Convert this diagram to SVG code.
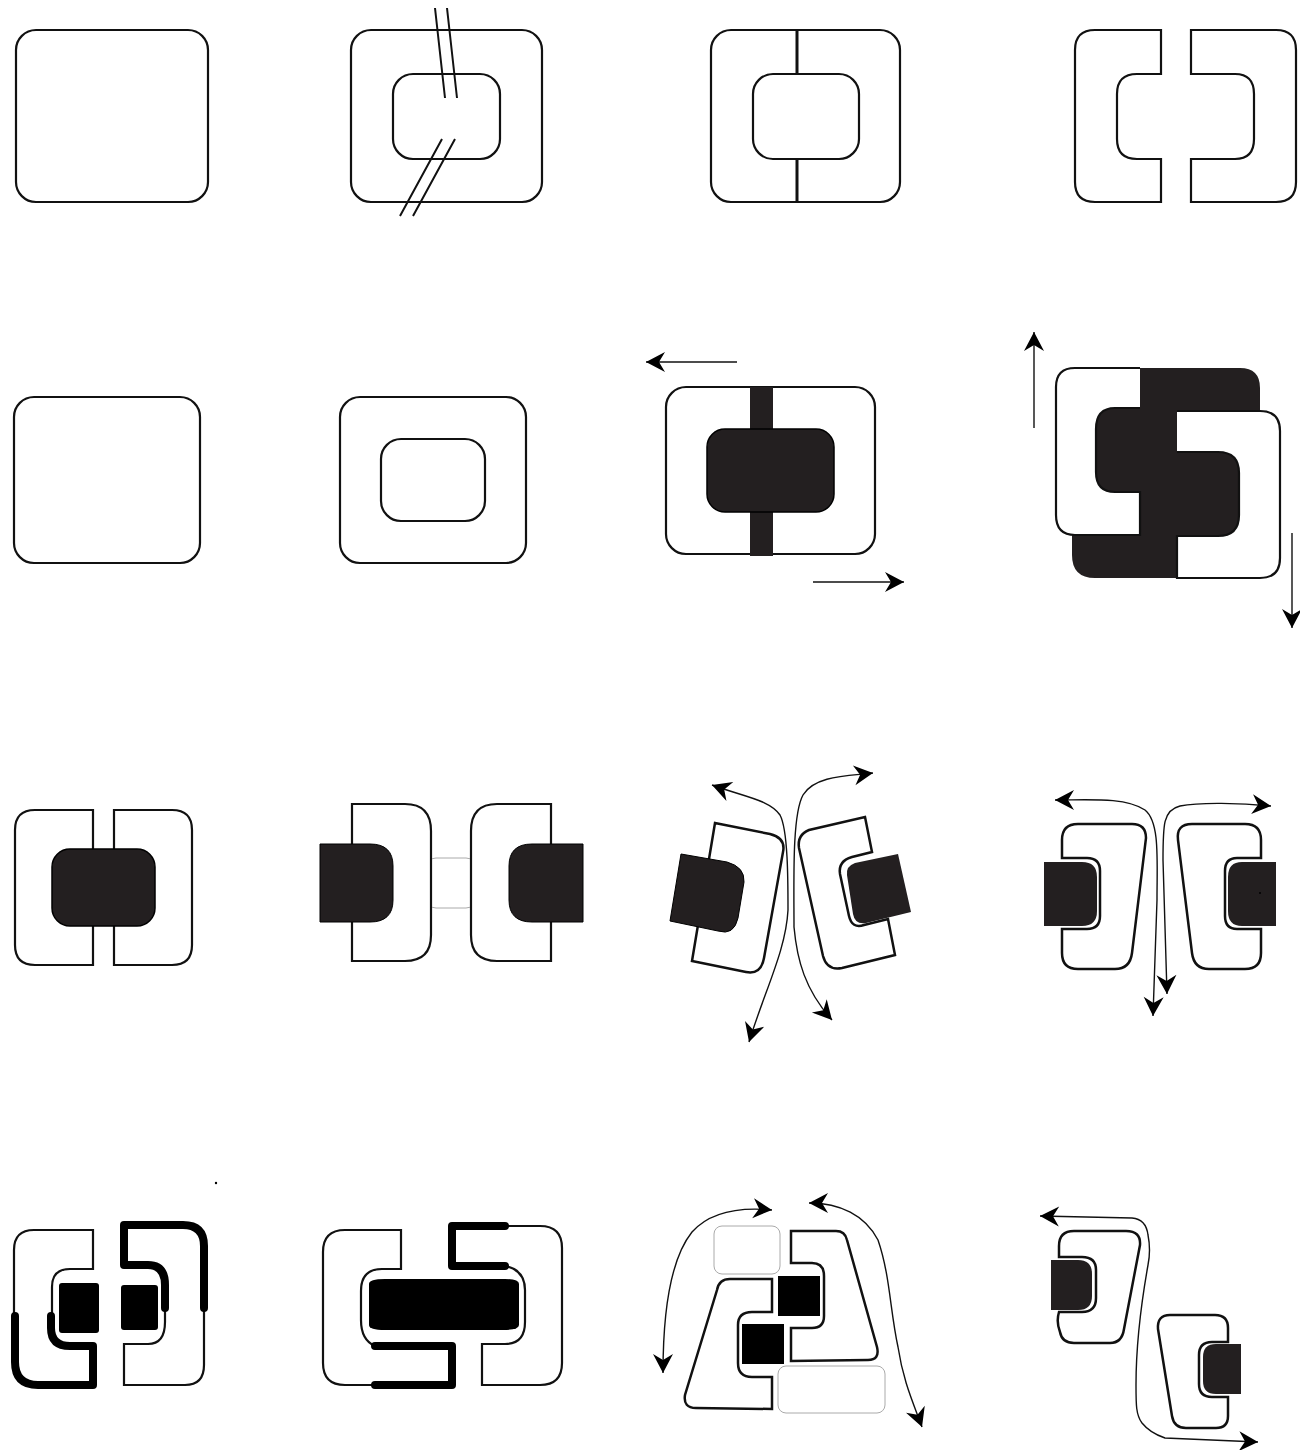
<svg xmlns="http://www.w3.org/2000/svg" width="1300" height="1450" viewBox="0 0 1300 1450">
<style>
.o{fill:#fff;stroke:#111;stroke-width:2.2;stroke-linejoin:miter}
.w{fill:#fff;stroke:#111;stroke-width:2.5;stroke-linejoin:miter}
.n{fill:none;stroke:#111;stroke-width:2}
.k{fill:#231f20}
.b{fill:#000}
.g{fill:#fff;stroke:#aaa;stroke-width:1}
.t{fill:none;stroke:#000;stroke-width:8;stroke-linecap:round;stroke-linejoin:round}
.a{fill:none;stroke:#111;stroke-width:1.4;marker-end:url(#ah)}
.d{fill:none;stroke:#111;stroke-width:1.4;marker-start:url(#ah);marker-end:url(#ah)}
</style>
<defs>
<marker id="ah" markerUnits="userSpaceOnUse" markerWidth="24" markerHeight="22" refX="19" refY="10" orient="auto-start-reverse" overflow="visible">
<path d="M0,0 L19,10 L0,20 L6,10 Z" fill="#000"/>
</marker>
</defs>
<rect width="1300" height="1450" fill="#fff"/>

<g id="p01"><rect class="o" x="16" y="30" width="192" height="172" rx="20"/></g>

<g id="p02">
<rect class="o" x="351" y="30" width="191" height="172" rx="20"/>
<rect class="o" x="393" y="74" width="107" height="85" rx="20"/>
<path class="n" d="M435,8 L445,98 M447,8 L457,98 M442,139 L400,216 M455,139 L413,216"/>
</g>

<g id="p03">
<rect class="o" x="711" y="30" width="189" height="172" rx="20"/>
<rect class="o" x="753" y="74" width="106" height="85" rx="20"/>
<path fill="none" stroke="#111" stroke-width="3" d="M797,30 V74 M797,159 V202"/>
</g>

<g id="p04">
<path class="o" d="M1161,30 H1095 Q1075,30 1075,50 V182 Q1075,202 1095,202 H1161 V159 H1137 Q1117,159 1117,139 V94 Q1117,74 1137,74 H1161 Z"/>
<path class="o" d="M1191,30 H1276 Q1296,30 1296,50 V182 Q1296,202 1276,202 H1191 V159 H1235 Q1254,159 1254,139 V94 Q1254,74 1235,74 H1191 Z"/>
</g>

<g id="p05"><rect class="o" x="14" y="397" width="186" height="166" rx="20"/></g>

<g id="p06">
<rect class="o" x="340" y="397" width="186" height="166" rx="20"/>
<rect class="o" x="381" y="439" width="104" height="82" rx="20"/>
</g>

<g id="p07">
<rect class="o" x="666" y="387" width="209" height="167" rx="20"/>
<rect class="k" x="750" y="387" width="23" height="169"/>
<rect x="707" y="429" width="127" height="83" rx="18" fill="#231f20" stroke="#000" stroke-width="1.5"/>
</g>

<g id="p08">
<path class="k" d="M1140,368 H1240 Q1260,368 1260,388 V420 H1250 V540 H1177 V578 H1095 Q1072,578 1072,555 V530 H1090 V400 H1140 Z"/>
<path class="o" d="M1140,368 H1075 Q1056,368 1056,387 V515 Q1056,535 1075,535 H1140 V492 H1115 Q1096,492 1096,472 V429 Q1096,408 1115,408 H1140"/>
<path class="o" d="M1177,411 H1260 Q1280,411 1280,431 V558 Q1280,578 1260,578 H1177 V536 H1218 Q1239,536 1239,515 V473 Q1239,452 1218,452 H1177"/>
</g>

<g id="p09">
<path class="o" d="M93,860 V810 H35 Q15,810 15,830 V945 Q15,965 35,965 H93 V915"/>
<path class="o" d="M114,860 V810 H172 Q192,810 192,830 V945 Q192,965 172,965 H114 V915"/>
<rect x="52" y="849" width="103" height="77" rx="18" fill="#231f20" stroke="#000" stroke-width="1.5"/>
</g>

<g id="p10">
<rect class="g" x="426" y="858" width="50" height="50" rx="10"/>
<path class="o" d="M352,804 H405 Q431,804 431,831 V935 Q431,961 405,961 H352 Z"/>
<path class="o" d="M551,804 H497 Q471,804 471,831 V935 Q471,961 497,961 H551 Z"/>
<path d="M320,844 H370 Q393,844 393,866 V900 Q393,922 370,922 H320 Z" fill="#231f20" stroke="#000" stroke-width="1"/>
<path d="M583,844 H532 Q509,844 509,866 V900 Q509,922 532,922 H583 Z" fill="#231f20" stroke="#000" stroke-width="1"/>
</g>

<g id="p11">
<path class="w" d="M715,823 L770,834 Q786,838 783,852 L764,958 Q761,975 746,972 L692,961 Z"/>
<path d="M681,854 L727,862 Q745,867 744,882 L738,918 Q734,936 718,931 L670,921 Z" fill="#231f20" stroke="#000"/>
<path class="w" d="M865,817 L872,852 L852,857 Q838,861 840,874 L849,916 Q852,929 864,925 L888,919 L895,955 L842,968 Q827,971 823,956 L799,848 Q797,835 809,830 Z"/>
<path d="M898,854 L911,912 L866,923 Q855,925 853,914 L847,875 Q846,866 855,863 Z" fill="#231f20"/>
</g>

<g id="p12">
<path class="w" d="M1062,858 V840 Q1062,824 1078,824 H1132 Q1146,824 1146,838 L1132,953 Q1130,969 1115,969 H1078 Q1062,969 1062,953 V929 H1087 Q1100,929 1100,916 V871 Q1100,858 1087,858 Z"/>
<path d="M1044,862 H1082 Q1097,862 1097,877 V911 Q1097,926 1082,926 H1044 Z" fill="#231f20"/>
<path class="w" d="M1261,858 V840 Q1261,824 1245,824 H1192 Q1176,824 1178,840 L1192,953 Q1194,969 1209,969 H1245 Q1261,969 1261,953 V929 H1237 Q1225,929 1225,916 V871 Q1225,858 1237,858 Z"/>
<path d="M1276,862 H1242 Q1228,862 1228,877 V911 Q1228,926 1242,926 H1276 Z" fill="#231f20"/>
<circle cx="1260" cy="893" r="1" fill="#000"/>
</g>

<g id="p13">
<path class="o" style="fill:none" d="M14,1316 V1250 Q14,1230 34,1230 H93 V1269 H70 Q52,1269 52,1287 V1316"/>
<path class="t" d="M15,1316 V1362 Q15,1385 38,1385 H93 V1346 H70 Q51,1346 51,1328 V1316"/>
<rect class="b" x="59" y="1283" width="40" height="50" rx="3"/>
<rect class="b" x="121" y="1285" width="37" height="45" rx="3"/>
<path class="o" style="fill:none" d="M165,1308 V1322 Q165,1344 148,1344 H124 V1385 H185 Q204,1385 204,1365 V1308"/>
<path class="t" d="M165,1308 V1285 Q165,1265 148,1265 H124 V1225 H183 Q204,1225 204,1246 V1308"/>
<circle cx="216" cy="1183" r="1.2" fill="#000"/>
</g>

<g id="p14">
<path class="o" style="fill:none" d="M375,1385 H345 Q323,1385 323,1363 V1252 Q323,1230 345,1230 H401 V1269 H382 Q361,1269 361,1291 V1320 Q361,1340 375,1346"/>
<path class="t" d="M375,1385 H452 V1346 H375"/>
<path class="b" d="M369,1284 Q369,1279 385,1279 H505 Q519,1279 519,1284 V1325 Q519,1330 503,1330 H385 Q369,1330 369,1325 Z"/>
<path class="o" style="fill:none" d="M505,1226 H540 Q562,1226 562,1248 V1363 Q562,1385 540,1385 H482 V1344 H505 Q525,1344 525,1322 V1290 Q525,1270 505,1266"/>
<path class="t" d="M505,1226 H452 V1266 H505"/>
</g>

<g id="p15">
<rect class="g" x="714" y="1226" width="66" height="48" rx="8"/>
<rect class="g" x="778" y="1366" width="107" height="47" rx="8"/>
<path class="w" d="M791,1231 H836 Q845,1231 847,1240 L877,1347 Q880,1360 868,1360 L791,1361 V1328 H812 Q824,1328 824,1316 V1276 Q824,1263 812,1263 H791 Z"/>
<path class="w" d="M772,1279 H730 Q719,1279 717,1290 L685,1395 Q683,1408 696,1408 L772,1409 V1377 H752 Q738,1377 738,1363 V1325 Q738,1312 752,1312 H772 Z"/>
<rect class="b" x="778" y="1276" width="42" height="40"/>
<rect class="b" x="742" y="1324" width="42" height="40"/>
</g>

<g id="p16">
<path class="w" d="M1059,1257 V1246 Q1059,1231 1074,1231 H1126 Q1141,1231 1140,1245 L1124,1329 Q1122,1343 1110,1343 H1074 Q1062,1343 1060,1332 Q1056,1322 1059,1312 H1082 Q1096,1312 1096,1298 V1270 Q1096,1257 1082,1257 Z"/>
<path d="M1051,1260 H1078 Q1092,1260 1092,1274 V1296 Q1092,1310 1078,1310 H1051 Z" fill="#231f20"/>
<path class="w" d="M1228,1342 V1328 Q1228,1315 1215,1315 H1170 Q1157,1315 1158,1329 L1172,1416 Q1174,1428 1186,1428 H1216 Q1228,1428 1228,1416 V1397 H1212 Q1199,1397 1199,1384 V1355 Q1199,1342 1212,1342 Z"/>
<path d="M1241,1344 H1216 Q1203,1344 1203,1357 V1381 Q1203,1394 1216,1394 H1241 Z" fill="#231f20"/>
</g>

<g id="connectors">
<path class="a" d="M737,362 H646"/>
<path class="a" d="M813,582 H904"/>
<path class="a" d="M1034,428 V332"/>
<path class="a" d="M1292,533 V628"/>
<path class="d" d="M712,785 C745,797 770,800 780,815 C788,830 788,880 788,910 C786,950 765,990 749,1042"/>
<path class="d" d="M873,773 C850,776 815,775 803,795 C792,815 794,880 794,927 C797,960 805,990 832,1020"/>
<path class="d" d="M1055,800 C1090,800 1125,797 1145,810 C1160,822 1157,860 1157,900 L1153,1016"/>
<path class="d" d="M1271,806 C1240,803 1200,802 1180,806 C1163,810 1163,825 1163,860 L1167,994"/>
<path class="d" d="M772,1210 C740,1207 710,1212 692,1232 C668,1262 663,1320 663,1373"/>
<path class="d" d="M809,1203 C840,1203 865,1215 878,1240 C890,1275 890,1310 898,1347 C903,1380 912,1400 922,1427"/>
<path class="d" d="M1040,1216 L1132,1218 Q1146,1219 1148,1235 Q1151,1250 1148,1265 C1140,1310 1136,1345 1136,1385 C1136,1405 1136,1415 1142,1423 Q1150,1433 1165,1438 L1258,1442"/>
</g>
</svg>
